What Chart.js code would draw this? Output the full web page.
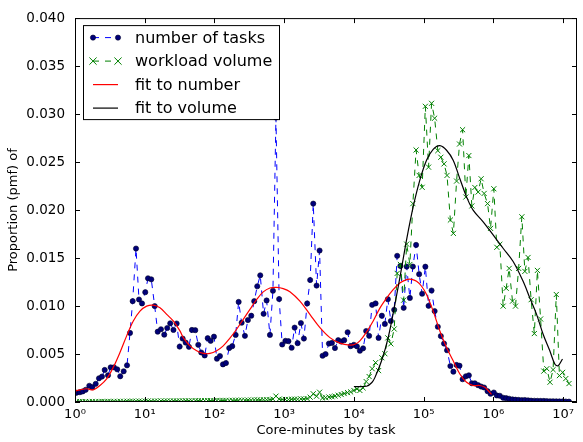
<!DOCTYPE html>
<html>
<head>
<meta charset="utf-8">
<script src="https://cdn.jsdelivr.net/npm/chart.js@4/dist/chart.umd.min.js"></script>
<style>
  html, body { margin: 0; padding: 0; background: #fff; }
  #wrap { width: 583px; height: 442px; }
</style>
</head>
<body>
<div id="wrap"><canvas id="pmfChart" width="583" height="442"></canvas></div>
<script>
// bin centres as log10(core-minutes)
const binExp = [
  0.02, 0.07, 0.11, 0.153, 0.205, 0.248, 0.297, 0.344, 0.387, 0.426,
  0.473, 0.512, 0.559, 0.606, 0.649, 0.698, 0.746, 0.789, 0.827, 0.875,
  0.918, 0.961, 1.008, 1.047, 1.094, 1.143, 1.186, 1.233, 1.28, 1.323,
  1.366, 1.412, 1.458, 1.501, 1.544, 1.587, 1.634, 1.677, 1.725, 1.768,
  1.811, 1.86, 1.903, 1.946, 1.993, 2.036, 2.079, 2.122, 2.165, 2.212,
  2.255, 2.304, 2.347, 2.39, 2.437, 2.48, 2.528, 2.571, 2.614, 2.657,
  2.705, 2.748, 2.796, 2.839, 2.882, 2.928, 2.972, 3.018, 3.061, 3.107,
  3.15, 3.193, 3.24, 3.283, 3.33, 3.373, 3.417, 3.465, 3.508, 3.551,
  3.594, 3.642, 3.685, 3.728, 3.775, 3.818, 3.861, 3.91, 3.953, 4.0,
  4.043, 4.086, 4.132, 4.176, 4.219, 4.262, 4.311, 4.354, 4.401, 4.444,
  4.487, 4.53, 4.578, 4.621, 4.667, 4.714, 4.757, 4.803, 4.846, 4.892,
  4.936, 4.979, 5.025, 5.071, 5.114, 5.158, 5.204, 5.247, 5.293, 5.336,
  5.384, 5.427, 5.473, 5.515, 5.559, 5.606, 5.649, 5.692, 5.735, 5.782,
  5.825, 5.868, 5.917, 5.96, 6.007, 6.05, 6.093, 6.141, 6.184, 6.227,
  6.275, 6.318, 6.363, 6.409, 6.452, 6.498, 6.542, 6.588, 6.632, 6.678,
  6.724, 6.767, 6.813, 6.857, 6.903, 6.948, 6.994, 7.039, 7.085
];

const taskPmf = [
  0.00096, 0.00102, 0.0011, 0.00127, 0.00169, 0.00154, 0.00189, 0.00247, 0.00265, 0.00334,
  0.00278, 0.00361, 0.00361, 0.0034, 0.00268, 0.0032, 0.00382, 0.0072, 0.01051, 0.01599,
  0.01068, 0.01027, 0.01144, 0.01289, 0.01278, 0.00999, 0.00733, 0.00758, 0.00702, 0.00771,
  0.0082, 0.00751, 0.00818, 0.00577, 0.00661, 0.00619, 0.00575, 0.00751, 0.00748, 0.00596,
  0.00516, 0.00485, 0.00665, 0.00637, 0.00681, 0.00451, 0.00479, 0.00392, 0.00406, 0.00562,
  0.00582, 0.00699, 0.01043, 0.00826, 0.00689, 0.00854, 0.00899, 0.01051, 0.01206, 0.0132,
  0.00919, 0.01058, 0.00699, 0.01159, 0.02964, 0.01073, 0.00599, 0.00637, 0.00634, 0.00565,
  0.00775, 0.00613, 0.00823, 0.00661, 0.01027, 0.01271, 0.02067, 0.01213, 0.01578, 0.00482,
  0.00499, 0.00609, 0.00616, 0.00562, 0.00644, 0.0063, 0.00644, 0.00727, 0.00582, 0.00596,
  0.0058, 0.00534, 0.00559, 0.0074, 0.00689, 0.01012, 0.01027, 0.00668, 0.00899, 0.00813,
  0.01071, 0.00844, 0.00961, 0.01523, 0.01418, 0.00981, 0.01411, 0.01084, 0.01411, 0.01637,
  0.01332, 0.01128, 0.0141, 0.01002, 0.01162, 0.00947, 0.00784, 0.00687, 0.00609, 0.00539,
  0.00375, 0.00316, 0.00386, 0.00378, 0.00237, 0.00268, 0.00278, 0.00195, 0.00195, 0.00175,
  0.00161, 0.00151, 0.00113, 0.00086, 0.00099, 0.00068, 0.00065, 0.00044, 0.0004, 0.00034,
  0.00027, 0.00024, 0.00022, 0.00019, 0.00021, 0.00017, 0.00014, 0.00013, 0.00012, 0.00011,
  0.00011, 0.00009, 0.00008, 0.00008, 0.00007, 0.00006, 0.00006, 0.00005, 0.00004
];

const volumePmf = [
  0.00005, 0.00005, 0.00004, 0.00005, 0.00005, 0.00006, 0.00005, 0.00005, 0.00006, 0.00005,
  0.00006, 0.00006, 0.00007, 0.00006, 0.00007, 0.00007, 0.00008, 0.00007, 0.00008, 0.00008,
  0.00009, 0.00008, 0.00009, 0.0001, 0.00009, 0.0001, 0.0001, 0.00011, 0.0001, 0.00011,
  0.00011, 0.00012, 0.00011, 0.00012, 0.00012, 0.00013, 0.00012, 0.00013, 0.00014, 0.00013,
  0.00014, 0.00014, 0.00015, 0.00014, 0.00015, 0.00016, 0.00015, 0.00016, 0.00017, 0.00016,
  0.00017, 0.00018, 0.00018, 0.00019, 0.00018, 0.0002, 0.0002, 0.00021, 0.00022, 0.00021,
  0.00023, 0.00024, 0.00025, 0.0003, 0.00061, 0.0003, 0.00026, 0.00027, 0.00026, 0.00028,
  0.0003, 0.00029, 0.00032, 0.00031, 0.00036, 0.0005, 0.00086, 0.0006, 0.00102, 0.00042,
  0.00045, 0.00052, 0.00055, 0.00062, 0.0007, 0.00078, 0.00088, 0.00098, 0.00105, 0.0012,
  0.00137, 0.0012, 0.00147, 0.00213, 0.00265, 0.00347, 0.0041, 0.00327, 0.00461, 0.00503,
  0.00668, 0.00606, 0.00761, 0.0134, 0.01433, 0.01061, 0.01645, 0.01433, 0.02067, 0.02626,
  0.02361, 0.02237, 0.03081, 0.02447, 0.03112, 0.02957, 0.02619, 0.0255, 0.02481, 0.02361,
  0.01896, 0.01757, 0.02302, 0.02688, 0.02837, 0.02136, 0.02568, 0.02043, 0.02235, 0.02188,
  0.02326, 0.02173, 0.02067, 0.01809, 0.02222, 0.01612, 0.01643, 0.00999, 0.01185, 0.01392,
  0.01051, 0.00999, 0.01392, 0.0193, 0.01361, 0.01506, 0.01066, 0.00713, 0.01371, 0.00865,
  0.00322, 0.00347, 0.00206, 0.00337, 0.0112, 0.00275, 0.00309, 0.00244, 0.00192
];

const fitNumberExp = [
  0.0, 0.072, 0.168, 0.262, 0.358, 0.454, 0.549, 0.645, 0.741, 0.836,
  0.932, 1.028, 1.123, 1.219, 1.315, 1.409, 1.505, 1.553, 1.649, 1.745,
  1.84, 1.935, 2.032, 2.126, 2.222, 2.318, 2.413, 2.509, 2.605, 2.7,
  2.796, 2.892, 2.986, 3.082, 3.226, 3.369, 3.513, 3.656, 3.799, 3.943,
  4.014, 4.086, 4.182, 4.277, 4.373, 4.469, 4.563, 4.659, 4.756, 4.827,
  4.899, 4.971, 5.042, 5.137, 5.233, 5.329, 5.424, 5.52, 5.616, 5.71,
  5.806, 5.878, 5.925, 5.974
];
const fitNumberPmf = [
  0.00113, 0.00127, 0.00138, 0.00127, 0.00172, 0.00241, 0.00361, 0.00516, 0.00689, 0.00844,
  0.00947, 0.00999, 0.01009, 0.00981, 0.00913, 0.00844, 0.00741, 0.00671, 0.00585, 0.00534,
  0.00506, 0.00506, 0.00534, 0.00585, 0.00665, 0.00758, 0.00861, 0.00965, 0.01068, 0.01147,
  0.01188, 0.01195, 0.01182, 0.01149, 0.01051, 0.00913, 0.00775, 0.00671, 0.00613, 0.00593,
  0.00601, 0.00637, 0.0073, 0.00844, 0.00978, 0.01082, 0.0117, 0.0124, 0.01275, 0.01278,
  0.01257, 0.01206, 0.0112, 0.00947, 0.0074, 0.00568, 0.0043, 0.00292, 0.00205, 0.00172,
  0.00172, 0.00154, 0.0012, 0.00079
];

const fitVolumeExp = [
  4.0, 4.182, 4.258, 4.301, 4.397, 4.492, 4.588, 4.684, 4.756, 4.85,
  4.946, 5.042, 5.137, 5.233, 5.329, 5.424, 5.52, 5.616, 5.71, 5.854,
  5.997, 6.14, 6.284, 6.427, 6.523, 6.62, 6.714, 6.81, 6.882, 6.929,
  6.992
];
const fitVolumePmf = [
  0.00161, 0.00164, 0.00203, 0.00254, 0.0043, 0.00671, 0.01017, 0.01395, 0.01692, 0.02033,
  0.02312, 0.02519, 0.02633, 0.02671, 0.02623, 0.02519, 0.02326, 0.02137, 0.01999, 0.01878,
  0.01741, 0.01602, 0.01464, 0.01257, 0.01085, 0.00913, 0.00706, 0.00534, 0.00396, 0.00378,
  0.00448
];

const xTickExp = [0, 1, 2, 3, 4, 5, 6, 7];
const xMaxExp = 7.2;
const seriesNames = ["number of tasks", "workload volume", "fit to number", "fit to volume"];

const sup = ["\u2070", "\u00b9", "\u00b2", "\u00b3", "\u2074", "\u2075", "\u2076", "\u2077", "\u2078", "\u2079"];
const toPoints = (xs, ys) => xs.map((e, i) => ({ x: Math.pow(10, e), y: ys[i] }));
const FONT = '"DejaVu Sans", "Liberation Sans", sans-serif';

// frame and inward ticks on all four sides, like the old matplotlib look
const frameTicks = {
  id: "frameTicks",
  afterDatasetsDraw(chart) {
    const { ctx, chartArea: a, scales } = chart;
    ctx.save();
    ctx.strokeStyle = "#000";
    ctx.lineWidth = 1;
    ctx.beginPath();
    scales.x.ticks.forEach(t => {
      const px = Math.round(scales.x.getPixelForValue(t.value)) + 0.5;
      ctx.moveTo(px, a.bottom); ctx.lineTo(px, a.bottom - 5);
      ctx.moveTo(px, a.top); ctx.lineTo(px, a.top + 5);
    });
    scales.y.ticks.forEach(t => {
      const py = Math.round(scales.y.getPixelForValue(t.value)) + 0.5;
      ctx.moveTo(a.left, py); ctx.lineTo(a.left + 5, py);
      ctx.moveTo(a.right, py); ctx.lineTo(a.right - 5, py);
    });
    ctx.stroke();
    ctx.strokeRect(a.left + 0.5, a.top + 0.5, a.right - a.left - 1, a.bottom - a.top - 1);
    ctx.restore();
  }
};

function drawMarker(ctx, ds, x, y) {
  if (!ds.pointRadius) return;
  const r = ds.pointRadius;
  ctx.setLineDash([]);
  if (ds.pointStyle === "crossRot") {
    ctx.strokeStyle = ds.pointBorderColor;
    ctx.lineWidth = ds.pointBorderWidth;
    ctx.beginPath();
    ctx.moveTo(x - r, y - r); ctx.lineTo(x + r, y + r);
    ctx.moveTo(x - r, y + r); ctx.lineTo(x + r, y - r);
    ctx.stroke();
  } else {
    ctx.fillStyle = ds.pointBackgroundColor;
    ctx.strokeStyle = ds.pointBorderColor;
    ctx.lineWidth = ds.pointBorderWidth;
    ctx.beginPath();
    ctx.arc(x, y, r, 0, Math.PI * 2);
    ctx.fill();
    ctx.stroke();
  }
}

// legend box in the upper left of the plot
const legendBox = {
  id: "legendBox",
  afterDraw(chart) {
    const { ctx, chartArea: a } = chart;
    const x0 = a.left + 8, y0 = a.top + 7, w = 196, h = 94;
    ctx.save();
    ctx.fillStyle = "#fff";
    ctx.fillRect(x0, y0, w, h);
    ctx.strokeStyle = "#000";
    ctx.lineWidth = 1;
    ctx.strokeRect(x0 + 0.5, y0 + 0.5, w, h);
    chart.data.datasets.forEach((ds, i) => {
      const y = y0 + 12.5 + i * 23.5;
      const hx0 = x0 + 10, hx1 = x0 + 35;
      ctx.strokeStyle = ds.borderColor;
      ctx.lineWidth = ds.borderWidth;
      ctx.setLineDash(ds.borderDash || []);
      ctx.beginPath();
      ctx.moveTo(hx0, y); ctx.lineTo(hx1, y);
      ctx.stroke();
      drawMarker(ctx, ds, hx0, y);
      drawMarker(ctx, ds, hx1, y);
      ctx.setLineDash([]);
      ctx.fillStyle = "#000";
      ctx.font = "16px " + FONT;
      ctx.textBaseline = "middle";
      ctx.textAlign = "left";
      ctx.fillText(ds.label, x0 + 52, y + 1);
    });
    ctx.restore();
  }
};

new Chart(document.getElementById("pmfChart"), {
  type: "line",
  data: {
    datasets: [
      {
        label: seriesNames[0],
        data: toPoints(binExp, taskPmf),
        borderColor: "#0000ff",
        borderWidth: 1,
        borderDash: [6, 6],
        pointStyle: "circle",
        pointRadius: 2.6,
        pointBackgroundColor: "#00007a",
        pointBorderColor: "#000028",
        pointBorderWidth: 0.6,
        tension: 0,
        order: 4
      },
      {
        label: seriesNames[1],
        data: toPoints(binExp, volumePmf),
        borderColor: "#008000",
        borderWidth: 1,
        borderDash: [6, 6],
        pointStyle: "crossRot",
        pointRadius: 3.6,
        pointBorderColor: "#008000",
        pointBorderWidth: 1,
        tension: 0,
        order: 3
      },
      {
        label: seriesNames[2],
        data: toPoints(fitNumberExp, fitNumberPmf),
        borderColor: "#ff0000",
        borderWidth: 1.2,
        pointRadius: 0,
        tension: 0.35,
        order: 2
      },
      {
        label: seriesNames[3],
        data: toPoints(fitVolumeExp, fitVolumePmf),
        borderColor: "#000000",
        borderWidth: 1.2,
        pointRadius: 0,
        tension: 0.35,
        order: 1
      }
    ]
  },
  options: {
    responsive: false,
    animation: false,
    events: [],
    layout: { padding: { top: 15, right: 6, left: 0, bottom: 0 } },
    plugins: { legend: { display: false }, tooltip: { enabled: false } },
    scales: {
      x: {
        type: "logarithmic",
        min: 1,
        max: Math.pow(10, xMaxExp),
        afterBuildTicks: scale => {
          scale.ticks = xTickExp.map(e => ({ value: Math.pow(10, e), major: true }));
        },
        afterFit: scale => { scale.height = 40; },
        grid: { display: false, drawTicks: false },
        border: { display: false },
        ticks: {
          autoSkip: false,
          maxRotation: 0,
          padding: 5,
          color: "#000",
          font: { family: FONT, size: 13 },
          callback: v => "10" + sup[Math.round(Math.log10(v))]
        },
        title: {
          display: true,
          text: "Core-minutes by task",
          color: "#000",
          font: { family: FONT, size: 13 },
          padding: { top: 2, bottom: 4 }
        }
      },
      y: {
        type: "linear",
        min: 0,
        max: 0.04,
        afterFit: scale => { scale.width = 75; },
        grid: { display: false, drawTicks: false },
        border: { display: false },
        ticks: {
          stepSize: 0.005,
          padding: 10,
          color: "#000",
          font: { family: FONT, size: 13.5 },
          callback: v => v.toFixed(3)
        },
        title: {
          display: true,
          text: "Proportion (pmf) of",
          color: "#000",
          font: { family: FONT, size: 13 },
          padding: { top: 6, bottom: 4 }
        }
      }
    }
  },
  plugins: [frameTicks, legendBox]
});
</script>
</body>
</html>
